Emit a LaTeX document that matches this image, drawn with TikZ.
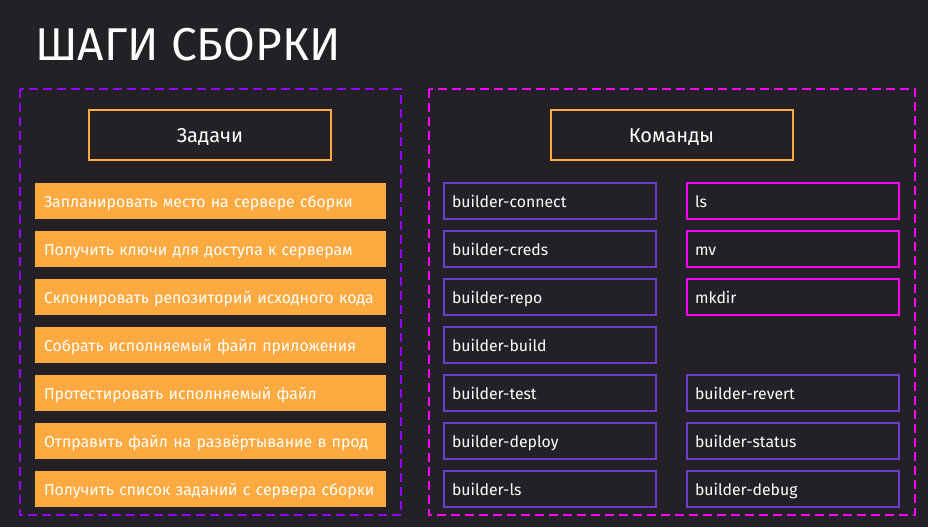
\documentclass[tikz,border=0pt]{standalone}
\usepackage{fontspec}
\setmainfont{Fira Sans}
\usetikzlibrary{positioning}
\definecolor{bg}{HTML}{232026}
\definecolor{accent}{HTML}{FFAA40}
\definecolor{framepurple}{HTML}{9400FF}
\definecolor{framepink}{HTML}{FF00FF}
\definecolor{cmdpurple}{HTML}{6E3CCC}
\definecolor{cmdpink}{HTML}{FF00FF}
\tikzstyle{frame} = [line width=2pt, dash pattern=on 9pt off 5pt]
\tikzstyle{header} = [rectangle, draw=accent, line width=2pt, fill=bg, text=white, outer sep=0pt,
    minimum width=242pt, minimum height=50pt, text height=16pt, text depth=0pt,
    font=\fontsize{20}{24}\selectfont]
\tikzstyle{task} = [rectangle, fill=accent, text=white, text width=333pt, inner xsep=9pt,
    outer sep=0pt, minimum height=36pt, align=left, text height=14pt, text depth=2pt,
    font=\fontsize{15.8}{19}\selectfont]
\tikzstyle{builder} = [rectangle, draw=cmdpurple, line width=2pt, text=white, text width=196pt,
    inner xsep=8pt, outer sep=0pt, minimum height=36pt, align=left, text height=14pt,
    text depth=2pt, font=\fontsize{15.8}{19}\selectfont]
\tikzstyle{shell} = [builder, draw=cmdpink]

\begin{document}
\begin{tikzpicture}[x=1pt, y=-1pt]
    \fill[bg] (0,0) rectangle (928,527);
    \useasboundingbox (0,0) rectangle (928,527);

    \node[anchor=base west, inner sep=0pt, text=white, font=\fontsize{46}{55}\selectfont] (title) at (35,60) {ШАГИ СБОРКИ};

    \draw[frame, draw=framepurple] (19.5,89) rectangle (400.5,515);
    \draw[frame, draw=framepink] (429,89) rectangle (915,515);

    \node[header] (tasks) at (210,134.5) {Задачи};
    \node[header] (commands) at (671.5,134.5) {Команды};

    \node[task, anchor=north west] (plan) at (35,183) {Запланировать место на сервере сборки};
    \node[task, below=12pt of plan] (keys) {Получить ключи для доступа к серверам};
    \node[task, below=12pt of keys] (clone) {Склонировать репозиторий исходного кода};
    \node[task, below=12pt of clone] (build) {Собрать исполняемый файл приложения};
    \node[task, below=12pt of build] (test) {Протестировать исполняемый файл};
    \node[task, below=12pt of test] (deploy) {Отправить файл на развёртывание в прод};
    \node[task, below=12pt of deploy] (list) {Получить список заданий с сервера сборки};

    \node[builder, anchor=north west] (bconnect) at (444,183) {builder-connect};
    \node[builder, below=12pt of bconnect] (bcreds) {builder-creds};
    \node[builder, below=12pt of bcreds] (brepo) {builder-repo};
    \node[builder, below=12pt of brepo] (bbuild) {builder-build};
    \node[builder, below=12pt of bbuild] (btest) {builder-test};
    \node[builder, below=12pt of btest] (bdeploy) {builder-deploy};
    \node[builder, below=12pt of bdeploy] (bls) {builder-ls};

    \node[shell, right=31pt of bconnect] (ls) {ls};
    \node[shell, below=12pt of ls] (mv) {mv};
    \node[shell, below=12pt of mv] (mkdir) {mkdir};
    \node[builder, right=31pt of btest] (brevert) {builder-revert};
    \node[builder, below=12pt of brevert] (bstatus) {builder-status};
    \node[builder, below=12pt of bstatus] (bdebug) {builder-debug};
\end{tikzpicture}
\end{document}
